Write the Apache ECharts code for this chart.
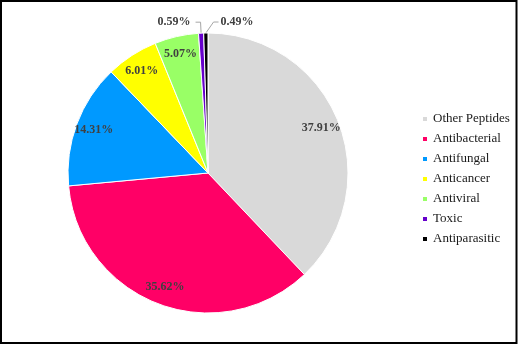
<!DOCTYPE html>
<html>
<head>
<meta charset="utf-8">
<script src="https://cdn.jsdelivr.net/npm/echarts@6/dist/echarts.min.js"></script>
<style>
    html, body { margin: 0; padding: 0; background: #fff; }
    #pie { width: 520px; height: 345px; }
</style>
</head>
<body>
<div id="pie"></div>
<script>
const categories = ['Other Peptides', 'Antibacterial', 'Antifungal', 'Anticancer', 'Antiviral', 'Toxic', 'Antiparasitic'];
const shares = [37.91, 35.62, 14.31, 6.01, 5.07, 0.59, 0.49];
const sliceColors = ['#d9d9d9', '#ff0066', '#0099ff', '#ffff00', '#99ff66', '#6600cc', '#000000'];

const serif = '"Liberation Serif", "Times New Roman", serif';
const smallShare = 1; // slices below this get their label outside with a leader line

const center = [208, 173];
const outerR = 140;

const pieData = categories.map((name, i) => ({
    name,
    value: shares[i],
    itemStyle: { color: sliceColors[i] },
    label: { show: shares[i] < smallShare },
    labelLine: { show: shares[i] < smallShare }
}));

// transparent ring on top, only used to sit the big labels near the rim like the original
const labelRing = categories.map((name, i) => ({
    name,
    value: shares[i],
    label: { show: shares[i] >= smallShare }
}));

const chart = echarts.init(document.getElementById('pie'));
chart.setOption({
    backgroundColor: '#fff',
    animation: false,
    color: sliceColors,
    legend: {
        orient: 'vertical',
        left: 416,
        top: 107,
        icon: 'rect',
        itemWidth: 6,
        itemHeight: 6,
        itemGap: 6,
        data: categories,
        textStyle: { fontFamily: serif, fontSize: 13, color: '#1a1a1a', lineHeight: 14 }
    },
    graphic: [{
        type: 'rect',
        shape: { x: 1, y: 1, width: 515.5, height: 342 },
        style: { fill: 'none', stroke: '#000', lineWidth: 2 },
        silent: true,
        z: 100
    }],
    series: [
        {
            type: 'pie',
            center,
            radius: [0, outerR],
            avoidLabelOverlap: false,
            itemStyle: { borderColor: '#fff', borderWidth: 1 },
            emphasis: { disabled: true },
            label: {
                position: 'outside',
                formatter: '{c}%',
                fontFamily: serif,
                fontSize: 12,
                fontWeight: 'bold',
                color: '#404040'
            },
            labelLine: { length: 11, length2: 5, lineStyle: { color: '#a6a6a6', width: 1 } },
            labelLayout(params) {
                // last tiny slice: flip its label to the right side of the top, as in the source
                if (params.dataIndex !== categories.length - 1 || !params.labelLinePoints) return {};
                const pts = params.labelLinePoints;
                const start = pts[0];
                const bend = [start[0] + (start[1] - pts[1][1]) * 0.7, pts[1][1]];
                const end = [bend[0] + Math.abs(pts[1][0] - pts[2][0]), pts[2][1]];
                return {
                    x: end[0] + 2,
                    y: end[1],
                    align: 'left',
                    verticalAlign: 'middle',
                    labelLinePoints: [start, bend, end]
                };
            },
            data: pieData
        },
        {
            type: 'pie',
            center,
            radius: [98, outerR],
            silent: true,
            itemStyle: { color: 'transparent' },
            emphasis: { disabled: true },
            label: {
                position: 'inside',
                formatter: '{c}%',
                fontFamily: serif,
                fontSize: 12,
                fontWeight: 'bold',
                color: '#404040'
            },
            labelLine: { show: false },
            data: labelRing
        }
    ]
});

window.addEventListener('resize', () => chart.resize());
</script>
</body>
</html>
